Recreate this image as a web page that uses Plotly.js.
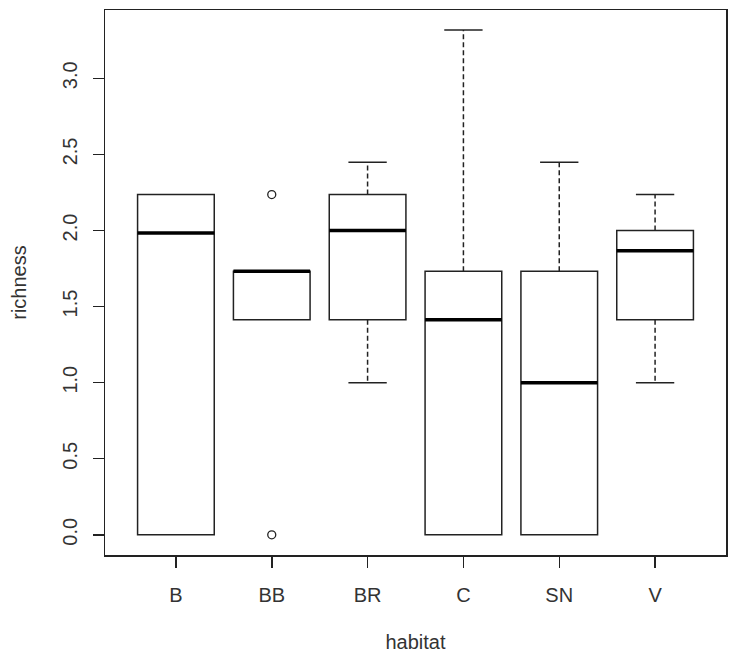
<!DOCTYPE html>
<html>
<head>
<meta charset="utf-8">
<script src="https://cdn.plot.ly/plotly-3.0.1.min.js"></script>
<style>html,body{margin:0;padding:0;background:#fff;}#chart{width:733px;height:657px;}</style>
</head>
<body>
<div id="chart"></div>
<script>
const categories = ['B', 'BB', 'BR', 'C', 'SN', 'V'];
const q1Values = [0, 1.414, 1.414, 0, 0, 1.414];
const medianValues = [1.984, 1.732, 2.0, 1.414, 1.0, 1.866];
const q3Values = [2.236, 1.732, 2.236, 1.732, 1.732, 2.0];
const lowerWhisker = [0, 1.414, 1.0, 0, 0, 1.0];
const upperWhisker = [2.236, 1.732, 2.449, 3.317, 2.449, 2.236];
const outlierCategory = ['BB', 'BB'];
const outlierValues = [2.236, 0];
const yTicks = [0, 0.5, 1.0, 1.5, 2.0, 2.5, 3.0];

const pos = categories.map((c, i) => i + 1);
const boxHalf = 0.4, capHalf = 0.2;

// whiskers (dashed)
const wx = [], wy = [];
categories.forEach((c, i) => {
  if (upperWhisker[i] > q3Values[i]) { wx.push(pos[i], pos[i], null); wy.push(q3Values[i], upperWhisker[i], null); }
  if (lowerWhisker[i] < q1Values[i]) { wx.push(pos[i], pos[i], null); wy.push(q1Values[i], lowerWhisker[i], null); }
});
// caps (staples)
const cx = [], cy = [];
categories.forEach((c, i) => {
  if (upperWhisker[i] > q3Values[i]) { cx.push(pos[i] - capHalf, pos[i] + capHalf, null); cy.push(upperWhisker[i], upperWhisker[i], null); }
  if (lowerWhisker[i] < q1Values[i]) { cx.push(pos[i] - capHalf, pos[i] + capHalf, null); cy.push(lowerWhisker[i], lowerWhisker[i], null); }
});
// medians (thick)
const mx = [], my = [];
categories.forEach((c, i) => { mx.push(pos[i] - boxHalf, pos[i] + boxHalf, null); my.push(medianValues[i], medianValues[i], null); });

const ox = outlierCategory.map(c => categories.indexOf(c) + 1);

const lineCol = '#222';
const data = [
  { type: 'scatter', mode: 'lines', x: wx, y: wy, line: { color: lineCol, width: 1.5, dash: '5px,3px' }, hoverinfo: 'skip', showlegend: false },
  { type: 'scatter', mode: 'lines', x: cx, y: cy, line: { color: lineCol, width: 1.5 }, hoverinfo: 'skip', showlegend: false },
  { type: 'box', x: pos, q1: q1Values, median: medianValues, q3: q3Values,
    lowerfence: q1Values, upperfence: q3Values, width: 0.8, whiskerwidth: 0,
    line: { color: lineCol, width: 1.5 }, fillcolor: 'rgba(255,255,255,0)', boxpoints: false, showlegend: false },
  { type: 'scatter', mode: 'lines', x: mx, y: my, line: { color: '#000', width: 3.5 }, hoverinfo: 'skip', showlegend: false },
  { type: 'scatter', mode: 'markers', x: ox, y: outlierValues, marker: { symbol: 'circle-open', size: 8, color: lineCol, line: { width: 1.3 } }, showlegend: false }
];

const fnt = { family: 'Liberation Sans, Arial, sans-serif', size: 20, color: '#333' };
const layout = {
  width: 733, height: 657,
  margin: { l: 105, r: 7, t: 10, b: 102 },
  paper_bgcolor: '#fff', plot_bgcolor: '#fff',
  font: fnt,
  showlegend: false,
  xaxis: {
    range: [0.26, 6.74], tickvals: pos, ticktext: categories,
    showline: true, mirror: true, linecolor: lineCol, linewidth: 1.5,
    ticks: 'outside', ticklen: 11, tickwidth: 1.5, tickcolor: lineCol,
    showgrid: false, zeroline: false, tickfont: fnt, ticklabelstandoff: 10,
    title: { text: 'habitat', font: fnt, standoff: 30 }
  },
  yaxis: {
    range: [-0.1327, 3.449], tickvals: yTicks, tickformat: '.1f', tickangle: -90,
    showline: true, mirror: true, linecolor: lineCol, linewidth: 1.5,
    ticks: 'outside', ticklen: 11, tickwidth: 1.5, tickcolor: lineCol,
    showgrid: false, zeroline: false, tickfont: fnt, ticklabelstandoff: 8,
    title: { text: 'richness', font: fnt, standoff: 26 }
  }
};
Plotly.newPlot('chart', data, layout, { staticPlot: true, displayModeBar: false });
</script>
</body>
</html>
